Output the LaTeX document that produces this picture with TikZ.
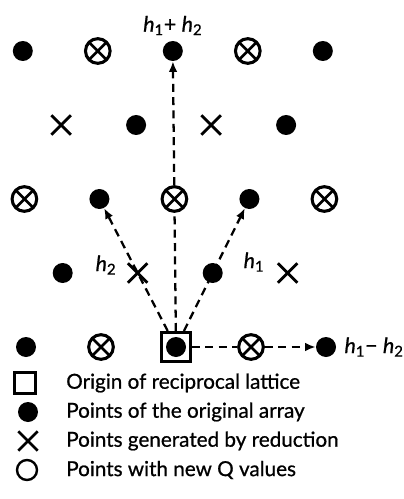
\documentclass[tikz,border=0pt]{standalone}
\usepackage{fontspec}
\setmainfont{Lato}[FakeBold=0.8]
\usetikzlibrary{shapes.misc, arrows.meta, positioning}

\tikzset{
  pt/.style={circle, fill, inner sep=0pt, minimum size=15pt},
  ot/.style={circle, draw, line width=2.3pt, inner sep=0pt, minimum size=18.5pt,
    path picture={\draw[line width=2pt]
      (path picture bounding box.north west) -- (path picture bounding box.south east)
      (path picture bounding box.south west) -- (path picture bounding box.north east);}},
  cr/.style={cross out, draw, line width=2.1pt, inner sep=0pt, minimum size=12.5pt},
  orig/.style={rectangle, draw, line width=2pt, inner sep=0pt, minimum size=22pt},
  vec/.style={line width=1.7pt, dash pattern=on 6pt off 4pt},
  lab/.style={inner sep=1pt, font=\fontsize{16}{19}\selectfont},
  key/.style={anchor=west, inner sep=0pt, font=\fontsize{15.5}{18}\selectfont}
}

\begin{document}
\begin{tikzpicture}[x=0.75pt, y=-0.75pt, >={Latex[length=8pt,width=6.5pt]}]
    \useasboundingbox (0,0) rectangle (403,499);
    % lattice points
    \foreach \c/\r/\t in {-4/0/pt, -2/0/ot, 0/0/pt, 2/0/ot, 4/0/pt,
                          -3/1/pt, -1/1/cr, 1/1/pt, 3/1/cr,
                          -4/2/ot, -2/2/pt, 0/2/ot, 2/2/pt, 4/2/ot,
                          -3/3/cr, -1/3/pt, 1/3/cr, 3/3/pt,
                          -4/4/pt, -2/4/ot, 0/4/pt, 2/4/ot, 4/4/pt} {
        \node[\t] (p\c r\r) at ({176+37.5*\c-0.8*\r}, {347-74*\r}) {};
    }
    \node[orig] (o) at (p0r0) {};

    % vectors
    \draw[vec, ->] (o) -- (p2r2);
    \draw[vec, ->] (o) -- (p-2r2);
    \draw[vec] (o) -- (p0r2);
    \draw[vec, ->] (p0r2) -- (p0r4);
    \draw[vec] (o) -- (p2r0);
    \draw[vec, ->] (p2r0) -- (p4r0);

    % labels
    \node[lab, above=3pt of p0r4] (hsum) {\textit{h}\textsubscript{1}+ \textit{h}\textsubscript{2}};
    \node[lab, right=5pt of p4r0] (hdiff) {\textit{h}\textsubscript{1}− \textit{h}\textsubscript{2}};
    \node[lab] (hone) at (254,262) {\textit{h}\textsubscript{1}};
    \node[lab] (htwo) at (106,265) {\textit{h}\textsubscript{2}};

    % key
    \node[rectangle, draw, line width=1.8pt, minimum size=16pt, inner sep=0pt] (ko) at (25,383) {};
    \node[pt] (kp) at (28,412) {};
    \node[cr] (kc) at (28,441) {};
    \node[circle, draw, line width=1.8pt, minimum size=15pt, inner sep=0pt] (kq) at (27,470) {};
    \node[key] (to) at (66,383) {Origin of reciprocal lattice};
    \node[key] (tp) at (66,412) {Points of the original array};
    \node[key] (tc) at (66,441) {Points generated by reduction};
    \node[key] (tq) at (66,470) {Points with new Q values};
\end{tikzpicture}
\end{document}
